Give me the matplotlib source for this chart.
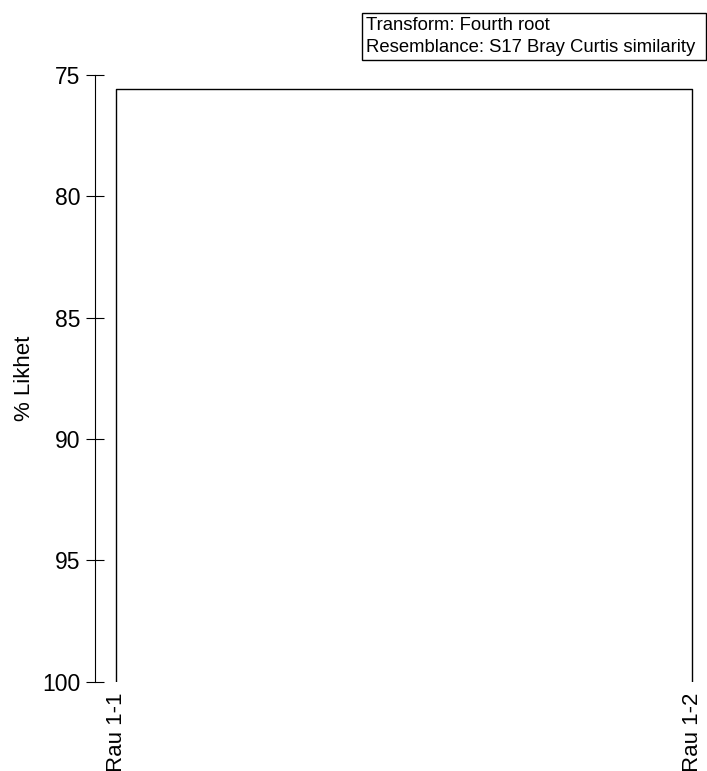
import matplotlib.pyplot as plt
from matplotlib.patches import Rectangle

plt.rcParams['font.family'] = ['Liberation Sans', 'DejaVu Sans']

# dendrogram data
leaves = ["Rau 1-1", "Rau 1-2"]
leaf_pos = [0, 1]
join_height = 75.6
y_ticks = [75, 80, 85, 90, 95, 100]
info_lines = ["Transform: Fourth root", "Resemblance: S17 Bray Curtis similarity"]

W, H = 707, 771
fig = plt.figure(figsize=(W / 100, H / 100), dpi=100)

# axes: left spine at x=95px, y from 74.7px (75) to 681.7px (100)
ax_l, ax_r = 95, 700
ax_t, ax_b = 74.7, 681.7
ax = fig.add_axes([ax_l / W, 1 - ax_b / H, (ax_r - ax_l) / W, (ax_b - ax_t) / H])

# dendrogram link
ax.plot([leaf_pos[0], leaf_pos[0], leaf_pos[1], leaf_pos[1]],
        [100, join_height, join_height, 100], color='black', lw=1)

ax.set_ylim(100, 75)
ax.set_xlim(-21 / 576, 1 + 8 / 576)
ax.set_yticks(y_ticks)
ax.set_yticklabels([str(t) for t in y_ticks], fontsize=16.5)
ax.tick_params(axis='y', direction='inout', length=13, width=0.8, pad=4)
ax.set_xticks(leaf_pos)
ax.set_xticklabels(leaves, rotation=90, fontsize=16, va='top', ha='center')
ax.tick_params(axis='x', length=0, pad=8)
for s in ['top', 'right', 'bottom']:
    ax.spines[s].set_visible(False)
ax.spines['left'].set_linewidth(0.8)
ax.set_ylabel("% Likhet", fontsize=16, labelpad=5)
ax.patch.set_visible(False)

# info box
bx0, bx1, by0, by1 = 362, 706, 13, 60
fig.patches.append(Rectangle((bx0 / W, 1 - by1 / H), (bx1 - bx0) / W, (by1 - by0) / H,
                             transform=fig.transFigure, fill=False, ec='black', lw=1))
fig.text(366 / W, 1 - 25 / H, info_lines[0], fontsize=13.3, va='center')
fig.text(366 / W, 1 - 48 / H, info_lines[1], fontsize=13.3, va='center')

fig.savefig("out.png", dpi=100)
